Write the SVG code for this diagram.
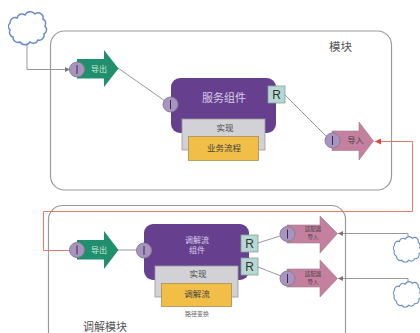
<svg xmlns="http://www.w3.org/2000/svg" width="420" height="333" viewBox="0 0 420 333">
<defs>
<marker id="ag" markerWidth="6" markerHeight="6" refX="5" refY="2.500" orient="auto" markerUnits="userSpaceOnUse"><path d="M0 0L5 2.500L0 5z" fill="#777"/></marker>
<marker id="ar" markerWidth="7" markerHeight="7" refX="6" refY="3" orient="auto" markerUnits="userSpaceOnUse"><path d="M0 0L6 3L0 6z" fill="#e0443a"/></marker>
<path id="cloud" d="M9 7A5 5 0 0 1 17 4A6 6 0 0 1 27 3A5 5 0 0 1 35 8A5 5 0 0 1 37 15A5 5 0 0 1 36 23A5 5 0 0 1 30 29A5 5 0 0 1 22 31A6 6 0 0 1 12 31A5 5 0 0 1 5 26A5 5 0 0 1 2 19A5 5 0 0 1 2 12A5 5 0 0 1 9 7Z" fill="#fff" stroke="#6a8cc4" stroke-width="1.500"/>
</defs>
<style>
.box{fill:none;stroke:#9a9a9a;stroke-width:1.2}
.ln{fill:none;stroke:#999;stroke-width:1}
.circ{fill:#a893c2;stroke:#85808f;stroke-width:1}
.bar{stroke:#333;stroke-width:1}
.exp{fill:#1f8f6c}
.imp{fill:#c57f9f;stroke:#9a7f8e;stroke-width:.6}
.comp{fill:#66408f}
.gray{fill:#d2d2d6;stroke:#9a9a9a;stroke-width:.8}
.yel{fill:#f1bf47;stroke:#a89050;stroke-width:.8}
.r{fill:#b5d9d2;stroke:#8a9a98;stroke-width:.8}
text{font-family:"Noto Sans CJK SC","Liberation Sans",sans-serif;text-anchor:middle}
.rt{font-family:"Liberation Sans",sans-serif;font-size:12px;fill:#333}
</style>
<g id="modules">
<rect class="box" x="50.500" y="31" width="341" height="159" rx="14"/>
<rect class="box" x="48.500" y="205.500" width="297" height="140" rx="14"/>
<text x="340.500" y="50.500" font-size="11.500" fill="#555">模块</text>
<text x="105" y="331" font-size="11" fill="#555">调解模块</text>
</g>
<g id="connectors">
<path class="ln" d="M27 45V69.500H70" marker-end="url(#ag)"/>
<path class="ln" d="M118 68L165 101"/>
<path class="ln" d="M285 95L327 137"/>
<path class="ln" d="M118 250H137"/>
<path class="ln" d="M258 243L280 236"/>
<path class="ln" d="M258 267L281 276"/>
<path class="ln" d="M408 236V233.500H338" marker-end="url(#ag)"/>
<path class="ln" d="M408 281V278.500H338" marker-end="url(#ag)"/>
<path d="M412.500 211.500V141.500H375" fill="none" stroke="#e8776e" stroke-width="1" marker-end="url(#ar)"/>
<path d="M412.500 211.500H43.500V250.500H70" fill="none" stroke="#e8776e" stroke-width="1"/>
</g>
<g id="cloud1"><use href="#cloud" x="8" y="11"/></g>
<g id="cloud2"><use href="#cloud" transform="translate(393 236) scale(.72 .78)"/></g>
<g id="cloud3"><use href="#cloud" transform="translate(393 281) scale(.72 .78)"/></g>
<g id="export1">
<path class="exp" d="M77 59H104V50L118.500 68.500L104 87V78.500H77Z"/>
<circle class="circ" cx="77" cy="69.500" r="7.500"/><path class="bar" d="M77 65V74"/>
<text x="99" y="71.500" font-size="8" fill="#cfe8dc">导出</text>
</g>
<g id="service">
<rect class="comp" x="171" y="78" width="105" height="55" rx="9"/>
<circle class="circ" cx="170.500" cy="104.500" r="7.500"/><path class="bar" d="M170.500 100V109"/>
<text x="224" y="102" font-size="11" fill="#d8cde6">服务组件</text>
<rect class="gray" x="182" y="119" width="83" height="31"/>
<text x="225" y="131" font-size="8.500" fill="#444">实现</text>
<rect class="yel" x="188.500" y="136.500" width="70" height="24"/>
<text x="224" y="151" font-size="8.500" fill="#444">业务流程</text>
<rect class="r" x="268" y="86" width="17" height="17"/>
<text class="rt" x="276.500" y="99">R</text>
</g>
<g id="import1">
<path class="imp" d="M332 131H359V122L373.500 141L359 160V150.500H332Z"/>
<circle class="circ" cx="332.500" cy="140.500" r="7.500"/><path class="bar" d="M332.500 136V145"/>
<text x="355.500" y="143" font-size="8" fill="#444">导入</text>
</g>
<g id="export2">
<path class="exp" d="M77 240H104V231L118.500 250L104 269V259.500H77Z"/>
<circle class="circ" cx="77" cy="250" r="7.500"/><path class="bar" d="M77 245.500V254.500"/>
<text x="99" y="253" font-size="8" fill="#cfe8dc">导出</text>
</g>
<g id="mediation">
<rect class="comp" x="144" y="224" width="105" height="56" rx="9"/>
<circle class="circ" cx="144" cy="250.500" r="7.500"/><path class="bar" d="M144 246V255"/>
<text font-size="8" fill="#d8cde6"><tspan x="197" y="243">调解流</tspan><tspan x="197" y="253">组件</tspan></text>
<rect class="gray" x="155" y="266" width="83" height="31"/>
<text x="198" y="277" font-size="8.500" fill="#444">实现</text>
<rect class="yel" x="161.500" y="283.500" width="70" height="23"/>
<text x="197" y="297" font-size="8.500" fill="#444">调解流</text>
<text x="197" y="316" font-size="6" fill="#666">路径变换</text>
<rect class="r" x="241" y="235" width="17" height="17"/>
<text class="rt" x="249.500" y="248">R</text>
<rect class="r" x="241" y="258" width="17" height="17"/>
<text class="rt" x="249.500" y="271">R</text>
</g>
<g id="adapter1">
<path class="imp" d="M287 225H320V216L337.500 233.500L320 253V243H287Z"/>
<circle class="circ" cx="287.500" cy="234" r="7.500"/><path class="bar" d="M287.500 229.500V238.500"/>
<text font-size="5.500" fill="#444"><tspan x="313" y="231">适配器</tspan><tspan x="313" y="239">导入</tspan></text>
</g>
<g id="adapter2">
<path class="imp" d="M287 269H320V260L337.500 278.500L320 297V287H287Z"/>
<circle class="circ" cx="287.500" cy="278.500" r="7.500"/><path class="bar" d="M287.500 274V283"/>
<text font-size="5.500" fill="#444"><tspan x="313" y="275.500">适配器</tspan><tspan x="313" y="283.500">导入</tspan></text>
</g>
</svg>
